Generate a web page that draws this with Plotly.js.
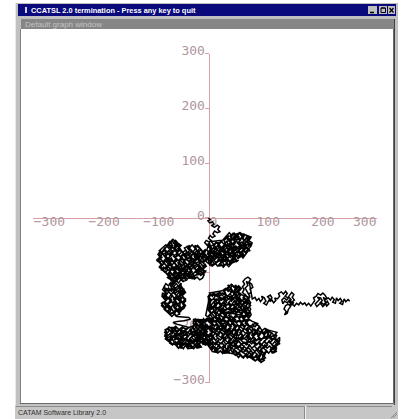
<!DOCTYPE html>
<html>
<head>
<meta charset="utf-8">
<script src="https://cdn.plot.ly/plotly-3.0.1.min.js"></script>
<style>
  html, body { margin: 0; padding: 0; background: #ffffff; overflow: hidden; }
  #plot { width: 402px; height: 419px; }
</style>
</head>
<body>
<div id="plot"></div>
<script>
// ---- axis ticks ----
const xTickVals = [-300, -200, -100, 0, 100, 200];
const xTickText = ['\u2212300', '\u2212200', '\u2212100', '0', '100', '200'];
const xLastTick = 300;               // drawn separately, pulled in from the frame edge
const yTickVals = [-300, -200, -100, 0, 100, 200, 300];
const yTickText = ['\u2212300', '\u2212200', '\u2212100', '0', '100', '200', '300'];

// ---- random walk, in order from the origin ----
const walkStart = [[0,0],[3,-3],[-1,-5],[2,-9],[7,-7],[10,-11],[6,-14],[11,-17],[16,-13],[20,-16],[17,-21],[21,-25],[16,-27],[11,-24],[8,-29],[12,-33],[7,-36],[3,-32],[0,-37],[5,-41],[1,-44],[-4,-41],[-7,-45],[-3,-49],[2,-47],[4,-52]];

const walkUpperRight = [[9,-49],[13,-54],[18,-50],[22,-55],[19,-60],[25,-62],[29,-57],[26,-52],[31,-48],[36,-52],[34,-44],[38,-38],[43,-42],[40,-33],[45,-28],[50,-32],[47,-37],[53,-40],[56,-35],[52,-30],[58,-27],[63,-31],[60,-37],[66,-40],[71,-37],[74,-42],[79,-45],[76,-51],[71,-48],[67,-53],[72,-57],[68,-62],[63,-58],[59,-63],[62,-68],[57,-72],[53,-67],[48,-71],[51,-77],[46,-81],[42,-76],[38,-80],[40,-86],[35,-84],[31,-78],[34,-73],[29,-70],[25,-75],[21,-70],[24,-65],[18,-67],[14,-63],[16,-72],[11,-76],[8,-70],[4,-74],[7,-80],[2,-83],[-1,-77],[3,-70],[-2,-66],[1,-60],[6,-64],[10,-60],[15,-66],[20,-63],[24,-69],[30,-65],[35,-61],[39,-66],[44,-62],[41,-56],[47,-52],[51,-57],[55,-52],[61,-50],[57,-45],[63,-44],[68,-48],[64,-53],[58,-57],[53,-61],[47,-58],[42,-52],[37,-57],[32,-63],[28,-60],[33,-55],[39,-47],[45,-48],[49,-44],[44,-38],[50,-36],[46,-46],[40,-50],[35,-67],[40,-72],[45,-68],[50,-63],[46,-74],[40,-78],[33,-77],[27,-80],[22,-76],[16,-80],[12,-84],[7,-88],[2,-85],[-3,-81],[-6,-76],[-2,-72],
  [38,-27],[43,-33],[47,-28],[52,-34],[56,-27],[60,-32],[63,-29],
  [78,-35],[74,-41],[69,-36],[65,-42],[61,-35],[56,-40],[51,-34],[47,-41],[42,-36],[38,-42],[34,-35],[30,-40],
  [5,-43],[10,-49],[14,-44],[19,-50],[23,-42],[28,-48],[33,-43],[37,-50],[42,-45],[47,-49],[51,-42],[56,-48],[61,-44],[65,-50],[70,-43],[75,-48],[80,-45],
  [78,-51],[73,-57],[68,-52],[64,-58],[59,-50],[54,-56],[50,-51],[45,-58],[40,-52],[35,-57],[31,-50],[26,-56],[21,-51],[16,-58],[12,-52],[7,-57],[2,-50],[-2,-55],
  [-3,-59],[2,-65],[6,-60],[11,-66],[16,-58],[21,-64],[25,-59],[30,-66],[35,-61],[40,-65],[44,-58],[49,-64],[54,-60],[58,-66],[63,-59],[68,-64],[72,-61],
  [68,-67],[63,-73],[59,-68],[54,-74],[49,-66],[45,-72],[40,-67],[35,-74],[31,-68],[26,-73],[21,-66],[17,-72],[12,-67],[7,-74],[3,-68],[-3,-72],
  [0,-75],[5,-81],[9,-76],[14,-82],[19,-74],[23,-80],[28,-75],[33,-82],[37,-77],[42,-81],[47,-74],[51,-80],[55,-77],
  [42,-83],[37,-89],[32,-84],[27,-90],[22,-82],[17,-88],[12,-83],[5,-87],
  [2,-45],[-2,-51],[5,-57],[-1,-63],[6,-69],[0,-75],[5,-81],[1,-86],
  [11,-84],[7,-78],[14,-72],[8,-66],[15,-60],[9,-54],[13,-46],
  [20,-45],[16,-51],[23,-57],[17,-63],[24,-69],[18,-75],[23,-81],[19,-88],
  [29,-86],[25,-80],[32,-74],[26,-68],[33,-62],[27,-56],[32,-50],[28,-40],
  [38,-32],[34,-38],[41,-44],[35,-50],[42,-56],[36,-62],[41,-68],[35,-74],[40,-82],
  [47,-80],[43,-74],[50,-68],[44,-62],[51,-56],[45,-50],[50,-44],[44,-38],[49,-30],
  [56,-28],[52,-34],[59,-40],[53,-46],[60,-52],[54,-58],[59,-64],[55,-72],
  [65,-68],[61,-62],[68,-56],[62,-50],[69,-44],[63,-38],[66,-30],
  [74,-36],[70,-42],[77,-48],[71,-54],[76,-60],[-2,-72]];

const walkUpperLeft = [[-7,-68],[-11,-73],[-8,-78],[-14,-81],[-18,-75],[-15,-69],[-21,-65],[-26,-70],[-23,-76],[-29,-80],[-34,-74],[-31,-67],[-37,-62],[-42,-66],[-39,-72],[-45,-77],[-49,-71],[-46,-64],[-52,-59],[-57,-63],[-54,-53],[-59,-48],[-63,-52],[-60,-44],[-65,-39],[-69,-43],[-66,-50],[-71,-55],[-76,-51],[-80,-57],[-77,-63],[-83,-66],[-88,-61],[-92,-66],[-89,-72],[-94,-76],[-90,-81],[-85,-78],[-82,-84],[-87,-89],[-83,-94],[-78,-90],[-74,-95],[-79,-99],[-75,-104],[-69,-100],[-65,-105],[-61,-99],[-65,-93],[-60,-88],[-55,-93],[-51,-87],[-56,-82],[-52,-77],[-47,-82],[-43,-88],[-48,-93],[-44,-99],[-39,-95],[-36,-101],[-31,-97],[-34,-91],[-29,-86],[-24,-91],[-20,-87],[-16,-92],[-21,-97],[-17,-103],[-12,-99],[-8,-104],[-11,-110],[-16,-113],[-21,-108],[-26,-112],[-30,-106],[-35,-110],[-40,-105],[-45,-109],[-41,-114],[-47,-116],[-52,-111],[-49,-105],[-55,-101],[-60,-106],[-57,-112],[-63,-115],[-69,-111],[-73,-106],[-70,-97],[-76,-93],[-72,-86],[-77,-80],[-73,-74],[-79,-70],[-74,-64],[-68,-67],[-64,-61],[-70,-58],[-65,-54],[-59,-57],[-55,-68],[-61,-72],[-57,-78],[-63,-82],[-68,-77],[-71,-83],[-66,-88],[-70,-93],[-64,-96],[-58,-93],[-52,-98],[-48,-87],[-42,-82],[-37,-86],[-33,-80],[-39,-77],[-35,-71],[-28,-74],[-24,-82],[-18,-80],[-12,-85],[-7,-90],[-11,-95],[-5,-97],[-9,-101],[-15,-97],[-25,-99],[-30,-103],[-36,-106],[-43,-102],[-50,-104],[-55,-108],[-62,-110],
  [-5,-57],[-10,-63],[-14,-58],[-19,-64],[-24,-56],[-28,-62],[-33,-57],[-38,-64],[-42,-59],[-47,-63],[-52,-56],[-56,-62],[-61,-58],[-66,-64],[-70,-57],[-75,-62],[-80,-58],[-85,-64],[-90,-60],
  [-78,-49],[-73,-55],[-68,-50],[-63,-56],[-59,-48],[-54,-54],[-50,-50],
  [-56,-46],[-60,-41],[-64,-46],[-67,-40],[-70,-47],[-80,-55],[-88,-66],
  [-93,-66],[-88,-71],[-84,-65],[-79,-72],[-74,-64],[-70,-70],[-65,-66],[-60,-72],[-56,-65],[-51,-71],[-46,-64],[-42,-70],[-37,-66],[-32,-72],[-28,-64],[-23,-70],[-18,-65],[-13,-72],[-9,-66],[-3,-70],
  [-20,-50],[-25,-55],[-30,-49],[-35,-55],[-40,-51],[-30,-62],[-15,-70],
  [-3,-74],[-8,-79],[-12,-73],[-17,-80],[-22,-72],[-26,-78],[-31,-73],[-36,-80],[-40,-75],[-45,-79],[-50,-72],[-54,-78],[-59,-74],[-64,-80],[-68,-73],[-73,-78],[-78,-74],[-83,-80],[-88,-75],[-94,-78],
  [-90,-81],[-85,-87],[-81,-82],[-76,-88],[-71,-80],[-67,-86],[-62,-81],[-57,-88],[-53,-83],[-48,-87],[-43,-80],[-39,-86],[-34,-82],[-29,-88],[-25,-81],[-20,-86],[-15,-82],[-10,-88],[-5,-84],
  [-8,-89],[-13,-95],[-17,-90],[-22,-96],[-27,-88],[-31,-94],[-36,-89],[-41,-96],[-45,-91],[-50,-95],[-55,-88],[-59,-94],[-64,-90],[-69,-96],[-73,-89],[-78,-94],[-82,-90],[-86,-95],
  [-80,-97],[-75,-103],[-71,-98],[-66,-104],[-61,-96],[-57,-102],[-52,-97],[-47,-104],[-43,-99],[-38,-103],[-33,-96],[-29,-102],[-24,-98],[-19,-104],[-12,-100],
  [-25,-105],[-30,-111],[-34,-106],[-39,-112],[-44,-104],[-48,-110],[-53,-105],[-58,-112],[-62,-107],[-67,-111],[-71,-104],[-75,-109],
  [-70,-112],[-65,-118],[-60,-113],[-55,-119],[-50,-112],[-45,-117],
  [-88,-60],[-92,-66],[-85,-72],[-91,-78],[-86,-84],[-90,-90],
  [-79,-100],[-83,-94],[-76,-88],[-82,-82],[-75,-76],[-81,-70],[-76,-64],[-82,-58],[-78,-54],
  [-70,-42],[-74,-48],[-67,-54],[-73,-60],[-66,-66],[-72,-72],[-67,-78],[-73,-84],[-66,-90],[-72,-96],[-67,-102],[-71,-108],
  [-61,-112],[-65,-106],[-58,-100],[-64,-94],[-57,-88],[-63,-82],[-58,-76],[-64,-70],[-57,-64],[-63,-58],[-58,-52],[-62,-44],
  [-52,-50],[-56,-56],[-49,-62],[-55,-68],[-48,-74],[-54,-80],[-49,-86],[-55,-92],[-48,-98],[-54,-104],[-50,-112],
  [-43,-110],[-47,-104],[-40,-98],[-46,-92],[-39,-86],[-45,-80],[-40,-74],[-46,-68],[-39,-62],[-44,-55],
  [-34,-50],[-38,-56],[-31,-62],[-37,-68],[-30,-74],[-36,-80],[-31,-86],[-37,-92],[-30,-98],[-36,-104],[-33,-110],
  [-25,-108],[-29,-102],[-22,-96],[-28,-90],[-21,-84],[-27,-78],[-22,-72],[-28,-66],[-21,-60],[-25,-50],
  [-16,-55],[-20,-61],[-13,-67],[-19,-73],[-12,-79],[-18,-85],[-13,-91],[-19,-97],[-14,-105],
  [-7,-100],[-11,-94],[-4,-88],[-10,-82],[-3,-76],[-9,-70],[-5,-58],[-64,-121]];

const walkLeftColumn = [[-69,-125],[-66,-130],[-72,-133],[-77,-129],[-81,-134],[-76,-139],[-81,-143],[-77,-148],[-72,-145],[-68,-150],[-73,-155],[-78,-158],[-83,-154],[-86,-160],[-81,-165],[-76,-162],[-71,-167],[-75,-172],[-70,-176],[-64,-173],[-60,-168],[-64,-162],[-59,-158],[-63,-152],[-58,-147],[-53,-152],[-49,-147],[-54,-142],[-50,-137],[-55,-133],[-60,-137],[-64,-132],[-59,-127],[-54,-124],[-49,-128],[-45,-133],[-50,-140],[-46,-146],[-42,-152],[-47,-157],[-44,-163],[-49,-168],[-53,-163],[-57,-170],[-53,-176],
  [-50,-119],[-55,-125],[-59,-120],[-64,-126],[-69,-118],[-73,-124],[-78,-120],
  [-82,-127],[-77,-133],[-73,-128],[-68,-134],[-63,-126],[-59,-132],[-54,-127],[-49,-134],[-45,-129],
  [-45,-135],[-50,-141],[-54,-136],[-59,-142],[-64,-134],[-68,-140],[-73,-135],[-78,-142],[-84,-137],
  [-85,-143],[-80,-149],[-76,-144],[-71,-150],[-66,-142],[-62,-148],[-57,-143],[-52,-150],[-47,-145],[-42,-148],
  [-42,-151],[-47,-157],[-51,-152],[-56,-158],[-61,-150],[-65,-156],[-70,-151],[-75,-158],[-80,-153],[-86,-156],
  [-84,-159],[-79,-165],[-75,-160],[-70,-166],[-65,-158],[-61,-164],[-56,-159],[-51,-166],[-46,-161],[-44,-164],
  [-48,-167],[-53,-173],[-57,-168],[-62,-174],[-67,-166],[-71,-172],[-78,-169],
  [-80,-125],[-84,-131],[-77,-137],[-83,-143],[-76,-149],[-82,-155],[-77,-161],[-81,-167],
  [-71,-176],[-75,-170],[-68,-164],[-74,-158],[-67,-152],[-73,-146],[-68,-140],[-74,-134],[-67,-128],[-71,-120],
  [-62,-118],[-66,-124],[-59,-130],[-65,-136],[-58,-142],[-64,-148],[-59,-154],[-65,-160],[-58,-166],[-64,-172],[-60,-179],
  [-53,-176],[-57,-170],[-50,-164],[-56,-158],[-49,-152],[-55,-146],[-50,-140],[-56,-134],[-49,-128],[-53,-120],
  [-46,-130],[-42,-136],[-48,-142],[-43,-148],[-47,-154],[-42,-160],[-46,-166],
  [-72,-175],[-67,-180],[-62,-175],[-58,-180],
  [-48,-181],[-36,-182],[-33,-185],[-45,-188],[-57,-189],[-65,-191],[-58,-194],[-47,-197],[-36,-200],[-40,-204]];

const walkLowerLeft = [[-47,-207],[-53,-203],[-59,-207],[-64,-202],[-69,-206],[-74,-201],[-79,-205],[-76,-211],[-80,-216],[-75,-220],[-70,-216],[-66,-221],[-71,-226],[-67,-231],[-62,-227],[-57,-232],[-52,-228],[-48,-234],[-43,-230],[-38,-235],[-34,-231],[-29,-236],[-24,-232],[-20,-237],[-16,-233],[-20,-227],[-25,-223],[-30,-227],[-35,-222],[-40,-225],[-45,-220],[-50,-224],[-55,-219],[-60,-222],[-63,-216],[-58,-212],[-53,-215],[-48,-210],[-43,-214],[-38,-209],[-33,-213],[-28,-208],[-24,-213],[-19,-209],[-15,-214],[-20,-219],[-15,-223],[-10,-219],[-6,-224],[-10,-229],[-5,-233],
  [-5,-197],[-10,-203],[-15,-198],[-20,-204],[-25,-196],[-42,-203],[-48,-199],[-54,-204],[-60,-198],[-66,-203],[-72,-199],[-77,-204],
  [-80,-204],[-75,-210],[-71,-205],[-66,-211],[-61,-203],[-57,-209],[-52,-204],[-47,-211],[-43,-206],[-38,-210],[-33,-203],[-29,-209],[-24,-205],[-19,-211],[-15,-206],[-10,-210],[-5,-204],
  [-5,-211],[-10,-217],[-14,-212],[-19,-218],[-24,-210],[-28,-216],[-33,-211],[-38,-218],[-42,-213],[-47,-217],[-52,-210],[-56,-216],[-61,-212],[-66,-218],[-70,-211],[-75,-216],[-80,-213],
  [-78,-218],[-73,-224],[-69,-219],[-64,-225],[-59,-217],[-55,-223],[-50,-218],[-45,-225],[-41,-220],[-36,-224],[-31,-217],[-27,-223],[-22,-219],[-17,-225],[-13,-220],[-8,-224],[-4,-218],
  [-5,-225],[-10,-231],[-14,-226],[-19,-232],[-24,-224],[-28,-230],[-33,-225],[-38,-232],[-42,-227],[-47,-231],[-52,-224],[-56,-230],[-61,-226],[-66,-232],[-72,-228],
  [-60,-232],[-55,-238],[-51,-233],[-46,-239],[-41,-231],[-37,-237],[-32,-232],[-27,-239],[-23,-234],[-15,-236],
  [-76,-203],[-80,-209],[-74,-215],[-79,-221],
  [-67,-230],[-71,-224],[-64,-218],[-70,-212],[-65,-206],[-69,-200],
  [-58,-200],[-62,-206],[-55,-212],[-61,-218],[-54,-224],[-60,-230],[-56,-236],
  [-49,-238],[-53,-232],[-46,-226],[-52,-220],[-45,-214],[-51,-208],[-47,-200],
  [-40,-203],[-44,-209],[-37,-215],[-43,-221],[-36,-227],[-42,-233],[-38,-239],
  [-31,-238],[-35,-232],[-28,-226],[-34,-220],[-27,-214],[-33,-208],[-29,-200],
  [-22,-190],[-26,-196],[-19,-202],[-25,-208],[-18,-214],[-24,-220],[-19,-226],[-25,-232],[-21,-238],
  [-13,-236],[-17,-230],[-10,-224],[-16,-218],[-9,-212],[-15,-206],[-10,-200],[-16,-194],[-12,-186],[-1,-228]];

const walkLowerCentre = [[3,-233],[8,-229],[6,-223],[11,-220],[7,-214],[2,-217],[-3,-212],[-7,-207],[-12,-203],[-17,-199],[-21,-193],[-26,-197],[-28,-190],[-24,-185],[-18,-190],[-13,-186],[-9,-191],[-4,-184],[0,-189],[4,-183],[9,-187],[7,-193],[12,-197],[17,-194],[15,-201],[20,-205],[25,-201],[23,-195],[29,-192],[33,-197],[31,-203],[36,-207],[41,-202],[39,-196],[45,-193],[49,-198],[47,-205],[52,-209],[57,-204],[55,-198],[61,-195],[66,-200],[63,-206],[68,-211],[73,-207],[71,-201],[76,-197],[81,-202],[79,-209],[84,-213],[88,-208],[93,-212],[97,-206],[101,-210],[106,-205],[110,-210],[107,-216],[113,-219],[118,-215],[122,-220],[127,-224],[130,-230],[125,-233],[121,-238],[124,-244],[118,-247],[114,-242],[110,-247],[105,-243],[103,-250],[99,-254],[102,-260],[96,-264],[92,-258],[87,-255],[89,-249],[84,-245],[80,-251],[75,-247],[77,-241],[72,-237],[68,-243],[63,-240],[65,-234],[59,-231],[55,-237],[50,-233],[52,-226],[46,-223],[42,-229],[37,-225],[39,-218],[33,-215],[29,-221],[24,-218],[26,-211],[20,-208],[16,-214],[11,-210],[13,-203],[8,-200],[3,-205],[-2,-200],[-6,-195],[-10,-199],[-14,-194],[-19,-205],[-23,-210],[-18,-214],[-13,-218],[-9,-223],[-4,-219],[1,-224],[-2,-231],[2,-237],[7,-240],[12,-236],[16,-241],[21,-237],[19,-231],[24,-228],[29,-233],[27,-240],[32,-244],[37,-239],[35,-233],[41,-236],[46,-241],[44,-247],[49,-251],[54,-246],[58,-250],[62,-255],[67,-251],[71,-256],[76,-252],[81,-257],[86,-261],[91,-257],[95,-252],[92,-246],[97,-241],[101,-236],[97,-231],[92,-227],[88,-232],[83,-228],[86,-222],[81,-218],[77,-223],[72,-219],[75,-213],[70,-216],[64,-221],[60,-217],[56,-222],[51,-218],[53,-212],[48,-215],[43,-211],[45,-205],[40,-209],[35,-213],[30,-209],[32,-203],[27,-199],[22,-193],[18,-188],
  [-28,-185],[-23,-191],[-19,-186],[-14,-192],[-9,-184],[-5,-190],[0,-185],[5,-192],[9,-187],[14,-191],[19,-184],[23,-190],[28,-186],[33,-192],[37,-185],[42,-190],[47,-186],[51,-192],[56,-187],[61,-191],[65,-184],[70,-190],[75,-186],[80,-189],
  [90,-193],[85,-199],[81,-194],[76,-200],[71,-192],[67,-198],[62,-193],[57,-200],[53,-195],[48,-199],[43,-192],[39,-198],[34,-194],[29,-200],[25,-195],[20,-199],[15,-192],[11,-198],[6,-194],[1,-200],[-3,-195],[-8,-199],[-13,-192],[-17,-198],[-22,-194],[-28,-197],
  [-28,-201],[-23,-207],[-19,-202],[-14,-208],[-9,-200],[-5,-206],[0,-201],[5,-208],[9,-203],[14,-207],[19,-200],[23,-206],[28,-202],[33,-208],[37,-203],[42,-207],[47,-200],[51,-206],[56,-202],[61,-208],[65,-201],[70,-206],[75,-202],[80,-208],[84,-203],[89,-207],[94,-200],[98,-206],[103,-202],[110,-205],
  [125,-209],[120,-215],[116,-210],[111,-216],[106,-208],[102,-214],[97,-209],[92,-216],[88,-211],[83,-215],[78,-208],[74,-214],[69,-210],[64,-216],[60,-211],[55,-215],[50,-208],[46,-214],[41,-210],[36,-216],[32,-211],[27,-215],[22,-208],[18,-214],[13,-210],[8,-216],[4,-211],[-1,-215],[-6,-208],[-10,-214],[-15,-210],[-20,-216],[-25,-212],
  [-20,-217],[-15,-223],[-11,-218],[-6,-224],[-1,-216],[3,-222],[8,-217],[13,-224],[17,-219],[22,-223],[27,-216],[31,-222],[36,-218],[41,-224],[45,-217],[50,-222],[55,-218],[60,-224],[64,-219],[69,-223],[74,-216],[78,-222],[83,-218],[88,-224],[92,-219],[97,-223],[102,-216],[106,-222],[111,-218],[116,-224],[120,-219],[125,-223],[130,-218],
  [130,-225],[125,-231],[121,-226],[116,-232],[111,-224],[107,-230],[102,-225],[97,-232],[93,-227],[88,-231],[83,-224],[79,-230],[74,-226],[69,-232],[65,-227],[60,-231],[55,-224],[51,-230],[46,-226],[41,-232],[37,-227],[32,-231],[27,-224],[23,-230],[18,-226],[13,-232],[9,-227],[4,-231],[0,-225],[-5,-230],[-10,-227],
  [0,-233],[5,-239],[9,-234],[14,-240],[19,-232],[23,-238],[28,-233],[33,-240],[37,-235],[42,-239],[47,-232],[51,-238],[56,-234],[61,-240],[65,-235],[70,-239],[75,-232],[79,-238],[84,-234],[89,-240],[93,-235],[98,-239],[103,-232],[107,-238],[112,-234],[117,-240],[121,-235],[125,-238],
  [115,-241],[110,-247],[106,-242],[101,-248],[96,-240],[92,-246],[87,-241],[82,-248],[78,-243],[73,-247],[68,-240],[64,-246],[59,-242],[54,-248],[50,-243],[45,-247],[40,-240],[36,-246],[31,-242],[26,-248],[22,-243],[17,-247],[10,-242],
  [50,-249],[55,-255],[59,-250],[64,-256],[69,-248],[73,-254],[78,-249],[83,-256],[87,-251],[92,-255],[97,-248],[100,-253],
  [98,-257],[94,-262],[89,-258],[85,-261],
  [-24,-186],[-28,-192],[-21,-198],[-27,-204],[-20,-210],[-26,-216],[-22,-222],
  [-6,-232],[-10,-226],[-3,-220],[-9,-214],[-2,-208],[-8,-202],[-3,-196],[-9,-190],[-4,-184],
  [5,-184],[1,-190],[8,-196],[2,-202],[9,-208],[3,-214],[8,-220],[2,-226],[9,-232],[3,-238],[7,-244],
  [16,-246],[12,-240],[19,-234],[13,-228],[20,-222],[14,-216],[19,-210],[13,-204],[20,-198],[14,-192],[17,-185],
  [27,-186],[23,-192],[30,-198],[24,-204],[31,-210],[25,-216],[30,-222],[24,-228],[31,-234],[25,-240],[29,-247],
  [38,-246],[34,-240],[41,-234],[35,-228],[42,-222],[36,-216],[41,-210],[35,-204],[42,-198],[36,-192],[39,-185],
  [49,-186],[45,-192],[52,-198],[46,-204],[53,-210],[47,-216],[52,-222],[46,-228],[53,-234],[47,-240],[52,-248],
  [60,-252],[56,-246],[63,-240],[57,-234],[64,-228],[58,-222],[63,-216],[57,-210],[64,-204],[58,-198],[61,-188],
  [71,-186],[67,-192],[74,-198],[68,-204],[75,-210],[69,-216],[74,-222],[68,-228],[75,-234],[69,-240],[74,-246],[70,-253],
  [82,-256],[78,-250],[85,-244],[79,-238],[86,-232],[80,-226],[85,-220],[79,-214],[86,-208],[80,-202],[84,-192],
  [93,-198],[89,-204],[96,-210],[90,-216],[97,-222],[91,-228],[96,-234],[90,-240],[97,-246],[91,-252],[95,-260],
  [104,-256],[100,-250],[107,-244],[101,-238],[108,-232],[102,-226],[107,-220],[101,-214],[105,-204],
  [115,-210],[111,-216],[118,-222],[112,-228],[119,-234],[113,-240],[116,-246],
  [124,-240],[120,-234],[127,-228],[121,-222],[125,-214],
  [60,-230],[30,-205],[14,-183]];

const walkUpperCentre = [[10,-179],[6,-174],[2,-170],[5,-164],[1,-159],[4,-153],[0,-148],[3,-142],[8,-139],[12,-143],[16,-138],[21,-142],[25,-137],[30,-140],[28,-134],[33,-130],[37,-125],[42,-121],[46,-126],[50,-123],[53,-128],[49,-133],[54,-137],[58,-141],[55,-146],[50,-142],[46,-147],[41,-143],[37,-148],[32,-145],[28,-150],[23,-146],[19,-151],[14,-148],[10,-153],[13,-158],[18,-155],[22,-160],[27,-156],[31,-161],[36,-157],[40,-162],[45,-158],[49,-163],[54,-159],[58,-164],[62,-160],[66,-165],[63,-171],[58,-174],[53,-170],[48,-175],[44,-171],[39,-176],[34,-172],[29,-177],[25,-173],[20,-178],[16,-174],[11,-169],[7,-164],[11,-160],[16,-164],[21,-168],[26,-165],[31,-169],[36,-166],[41,-169],[46,-166],[51,-151],[56,-153],[61,-150],[66,-154],[70,-149],[73,-155],[69,-160],[72,-166],[68,-171],[71,-177],[67,-182],[62,-179],[57,-183],[52,-180],[47,-184],[42,-180],[37,-184],[32,-181],[27,-185],[33,-189],[39,-187],[46,-190],[53,-188],[60,-191],[66,-188],[72,-185],[76,-180],
  [35,-122],[40,-128],[44,-123],[49,-129],[55,-124],
  [60,-129],[55,-135],[51,-130],[46,-136],[41,-128],[36,-134],[31,-129],[25,-133],
  [2,-137],[7,-143],[11,-138],[16,-144],[21,-136],[25,-142],[30,-137],[35,-144],[39,-139],[44,-143],[49,-136],[53,-142],[58,-138],[62,-141],
  [75,-145],[70,-151],[66,-146],[61,-152],[56,-144],[52,-150],[47,-145],[42,-152],[38,-147],[33,-151],[28,-144],[24,-150],[19,-146],[14,-152],[10,-147],[5,-151],[0,-146],
  [0,-153],[5,-159],[9,-154],[14,-160],[19,-152],[23,-158],[28,-153],[33,-160],[37,-155],[42,-159],[47,-152],[51,-158],[56,-154],[61,-160],[65,-153],[70,-158],[76,-155],
  [76,-161],[71,-167],[67,-162],[62,-168],[57,-160],[53,-166],[48,-161],[43,-168],[39,-163],[34,-167],[29,-160],[25,-166],[20,-162],[15,-168],[11,-163],[6,-167],[0,-162],
  [0,-169],[5,-175],[9,-170],[14,-176],[19,-168],[23,-174],[28,-169],[33,-176],[37,-171],[42,-175],[47,-168],[51,-174],[56,-170],[61,-176],[65,-169],[70,-174],[76,-171],
  [78,-177],[73,-183],[69,-178],[64,-184],[59,-176],[55,-182],[50,-177],[45,-184],[41,-179],[36,-183],[31,-176],[27,-182],[22,-178],[17,-184],[13,-179],[8,-183],[3,-176],[-2,-181],[-5,-178],
  [3,-138],[-1,-144],[6,-150],[0,-156],[7,-162],[1,-168],[6,-174],[0,-180],[4,-188],
  [12,-190],[8,-184],[15,-178],[9,-172],[16,-166],[10,-160],[15,-154],[9,-148],[14,-140],
  [21,-136],[17,-142],[24,-148],[18,-154],[25,-160],[19,-166],[24,-172],[18,-178],[23,-186],
  [30,-190],[26,-184],[33,-178],[27,-172],[34,-166],[28,-160],[33,-154],[27,-148],[32,-140],[29,-132],
  [39,-124],[35,-130],[42,-136],[36,-142],[43,-148],[37,-154],[42,-160],[36,-166],[43,-172],[37,-178],[41,-186],
  [48,-190],[44,-184],[51,-178],[45,-172],[52,-166],[46,-160],[51,-154],[45,-148],[52,-142],[46,-136],[50,-126],
  [57,-128],[53,-134],[60,-140],[54,-146],[61,-152],[55,-158],[60,-164],[54,-170],[61,-176],[55,-182],[59,-189],
  [66,-188],[62,-182],[69,-176],[63,-170],[70,-164],[64,-158],[69,-152],[63,-146],[67,-140],
  [74,-148],[70,-154],[77,-160],[71,-166],[76,-172],[72,-180],
  [20,-170],[45,-165],[74,-173],[77,-167],[74,-161],[77,-155],[74,-149],[70,-144],[66,-140],[62,-136]];

const walkBump = [[65,-131],[62,-126],[66,-121],[63,-116],[67,-111],[72,-108],[77,-112],[74,-117],[79,-121],[81,-127],[76,-130],[78,-136],[73,-139],[76,-144],[71,-135],[67,-128],[72,-123],[69,-116],[75,-120],[80,-148]];

const walkTail = [[85,-145],[88,-151],[92,-147],[95,-153],[99,-148],[97,-143],[102,-146],[105,-152],[101,-156],[106,-159],[109,-153],[112,-148],[108,-144],[113,-141],[116,-146],[112,-153],[116,-150],[119,-155],[123,-151],[121,-146],[126,-148],[130,-143],[128,-138],[133,-135],[137,-139],[141,-134],[144,-138],[140,-143],[145,-146],[149,-141],[152,-136],[156,-140],[153,-145],[157,-150],[152,-154],[148,-150],[144,-155],[139,-152],[136,-157],[134,-150],[138,-146],[143,-150],[147,-145],[151,-149],[148,-154],[153,-158],[156,-154],[150,-160],[145,-158],[141,-160],[138,-166],[142,-171],[139,-177],[144,-174],[146,-167],[150,-162],[147,-158],[153,-157],[157,-161],[161,-156],[165,-159],[168,-154],[172,-158],[176,-155],[179,-160],[183,-156],[187,-161],[190,-156],[194,-151],[192,-146],[197,-143],[200,-138],[205,-141],[209,-137],[213,-141],[216,-146],[212,-150],[215,-155],[210,-158],[206,-154],[202,-159],[198,-162],[195,-157],[199,-153],[203,-149],[199,-145],[205,-146],[208,-151],[204,-155],[209,-162],[213,-158],[217,-152],[220,-157],[216,-161],[210,-145],[214,-149],[219,-146],[223,-150],[226,-145],[230,-149],[227,-154],[232,-156],[234,-146],[237,-151],[241,-147],[244,-152],[240,-156],[245,-158],[248,-148],[251,-153],[255,-149],[258,-152]];

const walkPath = [].concat(walkStart, walkUpperRight, walkUpperLeft, walkLeftColumn,
  walkLowerLeft, walkLowerCentre, walkUpperCentre, walkBump, walkTail);
const walkX = walkPath.map(p => p[0]);
const walkY = walkPath.map(p => p[1]);

// ---- page frame (window chrome), in pixels ----
const W = 402, H = 419;
const AXIS_LINE = '#d7a2a6';
const AXIS_TEXT = '#b0959b';
const TICK_FONT = { family: 'DejaVu Sans Mono', size: 13, color: AXIS_TEXT };

function rect(x0, y0, x1, y1, fill) {
  return { type: 'rect', xref: 'paper', yref: 'paper', layer: 'below',
    x0: x0 / W, x1: x1 / W, y0: 1 - y1 / H, y1: 1 - y0 / H,
    fillcolor: fill, line: { width: 0 } };
}
function seg(x0, y0, x1, y1, color, width) {
  return { type: 'line', xref: 'paper', yref: 'paper', layer: 'below',
    x0: x0 / W, x1: x1 / W, y0: 1 - y0 / H, y1: 1 - y1 / H,
    line: { color: color, width: width || 1 } };
}
function label(text, x, y, size, color, bold) {
  return { text: text, xref: 'paper', yref: 'paper', x: x / W, y: 1 - y / H,
    xanchor: 'left', yanchor: 'middle', showarrow: false,
    font: { family: 'Liberation Sans', size: size, color: color, weight: bold ? 700 : 400 } };
}

const shapes = [
  rect(15, 3, 398, 419, '#c0c0c0'),          // window body
  seg(15.5, 3, 15.5, 419, '#e8e8e8'),
  rect(18, 4, 396, 16, '#0a0a7c'),           // title bar
  rect(25, 7, 27, 13, '#d0d0ff'),
  // caption buttons
  rect(368, 6, 377, 14, '#c0c0c0'), rect(379, 6, 387, 14, '#c0c0c0'), rect(388, 6, 395, 14, '#c0c0c0'),
  seg(370, 12.5, 374, 12.5, '#000', 1.5),
  seg(381, 8, 385.5, 8, '#000', 1.5),
  seg(381, 8, 381, 12.5, '#000', 1), seg(385.5, 8, 385.5, 12.5, '#000', 1), seg(381, 12.5, 385.5, 12.5, '#000', 1),
  seg(389.5, 8, 393.5, 12.5, '#000', 1.2), seg(393.5, 8, 389.5, 12.5, '#000', 1.2),
  rect(21, 19, 395, 29, '#868686'),          // graph window caption strip
  rect(21, 29, 393, 403, '#ffffff'),         // drawing area
  seg(20.5, 29, 20.5, 404, '#808080'),
  seg(393.5, 29, 393.5, 404, '#6a6a6a'),
  seg(394.5, 19, 394.5, 405, '#404040'),
  seg(20, 403.5, 395, 403.5, '#6a6a6a'),
  // status bar
  rect(15, 405, 398, 419, '#c6c6c6'),
  seg(16, 406.5, 304, 406.5, '#8a8a8a'),
  seg(304.5, 406, 304.5, 419, '#8a8a8a'), seg(305.5, 406, 305.5, 419, '#f0f0f0'),
  seg(307, 406.5, 392, 406.5, '#8a8a8a'),
  seg(391, 418, 397, 412, '#8a8a8a'), seg(393, 418, 397, 414, '#8a8a8a')
];

const annotations = [
  label('CCATSL 2.0 termination - Press any key to quit', 28.5, 10, 7.4, '#ffffff', true),
  label('Default graph window', 22.5, 24.5, 8, '#c4c4c4', false),
  label('CATAM Software Library 2.0', 16, 412.5, 7, '#303030', false),
  // last x tick label, nudged inside the frame
  { text: '300', xref: 'x', yref: 'y', x: xLastTick, y: 0, xanchor: 'center', yanchor: 'top',
    xshift: -8, yshift: 6, showarrow: false, font: TICK_FONT }
];

const trace = {
  type: 'scatter', mode: 'lines', x: walkX, y: walkY,
  line: { color: '#000000', width: 1.5 }, hoverinfo: 'skip'
};

const layout = {
  width: W, height: H,
  margin: { l: 0, r: 0, t: 0, b: 0, pad: 0 },
  paper_bgcolor: '#ffffff', plot_bgcolor: 'rgba(0,0,0,0)',
  showlegend: false,
  xaxis: {
    domain: [33 / W, 377 / W], range: [-320.8, 308.0],
    anchor: 'free', position: 1 - 218 / H,
    showline: true, linecolor: AXIS_LINE, linewidth: 1,
    zeroline: false, showgrid: false, ticks: '',
    tickmode: 'array', tickvals: xTickVals, ticktext: xTickText,
    tickfont: TICK_FONT, ticklabelshift: 5, ticklabelstandoff: -9,
    layer: 'below traces', fixedrange: true
  },
  yaxis: {
    domain: [1 - 383.2 / H, 1 - 53.6 / H], range: [-302, 300.5],
    anchor: 'free', position: 208.5 / W,
    showline: true, linecolor: AXIS_LINE, linewidth: 1,
    zeroline: false, showgrid: false,
    ticks: 'outside', ticklen: 4, tickcolor: AXIS_LINE, tickwidth: 1,
    tickmode: 'array', tickvals: yTickVals, ticktext: yTickText,
    tickfont: TICK_FONT, ticklabelshift: -3, ticklabelstandoff: -3,
    layer: 'below traces', fixedrange: true
  },
  shapes: shapes,
  annotations: annotations
};

Plotly.newPlot('plot', [trace], layout, { staticPlot: true, displayModeBar: false });
</script>
</body>
</html>
